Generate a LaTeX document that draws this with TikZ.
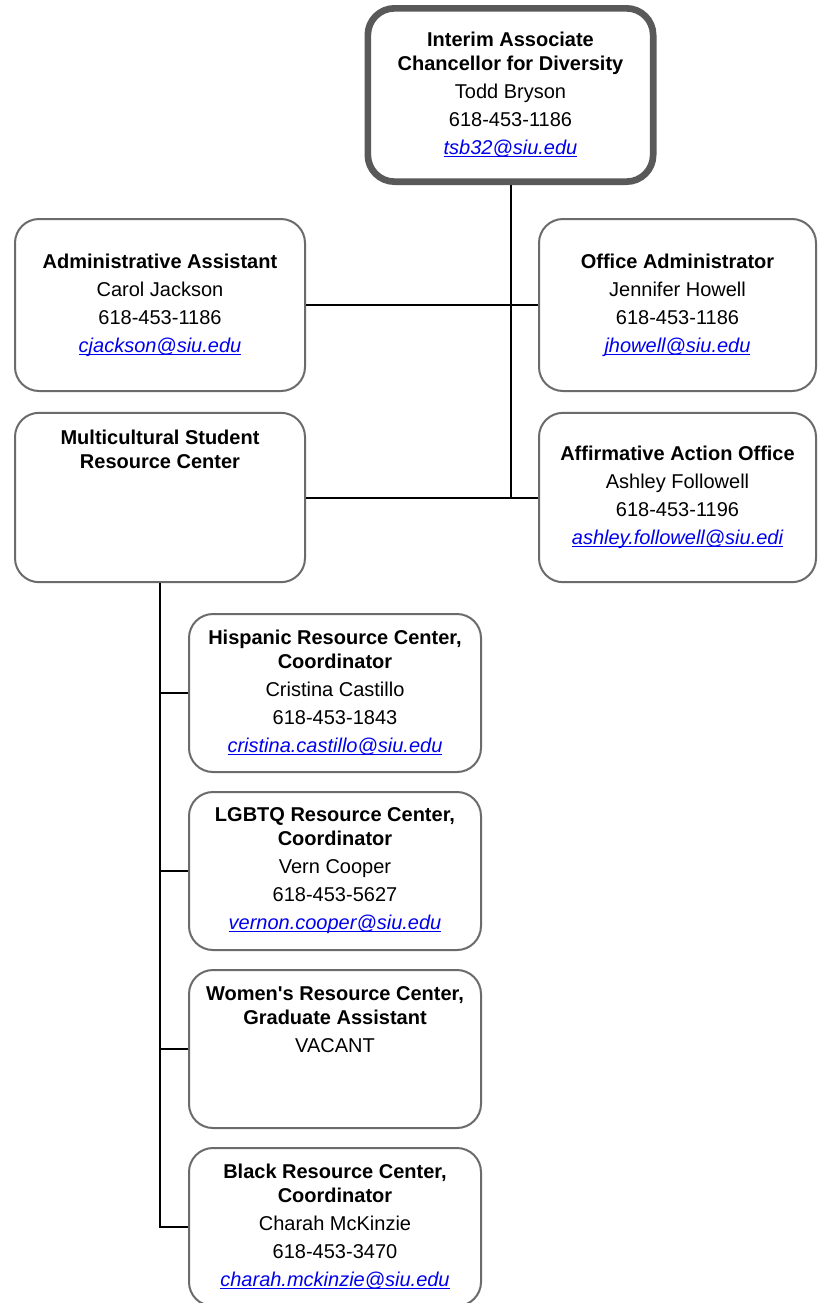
\documentclass[tikz,border=0pt]{standalone}
\usepackage{fontspec}
\setmainfont{Liberation Sans}
\usepackage{tikz}
\usetikzlibrary{positioning,calc}
\usepackage{xcolor}
\definecolor{linkblue}{RGB}{0,0,238}
\newcommand{\Email}[1]{\textcolor{linkblue}{\setbox0\hbox{\itshape #1}%
    \rlap{\rule[-1.8pt]{\wd0}{0.8pt}}\box0}}

\begin{document}
\begin{tikzpicture}[
    x=0.75pt, y=-0.75pt,
    box/.style={draw=black!58, line width=1.5pt, rounded corners=18pt, fill=white,
        align=center, font=\fontsize{15pt}{18pt}\selectfont, inner sep=0pt},
    head/.style={box, draw=black!65, line width=5pt, rounded corners=20pt},
    conn/.style={draw=black, line width=1.5pt}
]
\useasboundingbox (0,0) rectangle (818,1303);

\node[head, minimum width=214pt, minimum height=130pt] (iac) at (510.5,95) {%
    \textbf{Interim Associate}\\\textbf{Chancellor for Diversity}\\[3pt]
    Todd Bryson\\[3pt]618-453-1186\\[3pt]\Email{tsb32@siu.edu}};

\node[box, minimum width=217.5pt, minimum height=129pt] (adm) at (160,305) {%
    \textbf{Administrative Assistant}\\[3pt]Carol Jackson\\[3pt]
    618-453-1186\\[3pt]\Email{cjackson@siu.edu}};
\node[box, minimum width=207.75pt, minimum height=129pt] (ofa) at (677.5,305) {%
    \textbf{Office Administrator}\\[3pt]Jennifer Howell\\[3pt]
    618-453-1186\\[3pt]\Email{jhowell@siu.edu}};

\node[box, minimum width=217.5pt, minimum height=127pt] (msrc) at (160,497.5) {%
    \textbf{Multicultural Student}\\\textbf{Resource Center}\\[54pt]\mbox{}};
\node[box, minimum width=207.75pt, minimum height=127pt] (aao) at (677.5,497.5) {%
    \textbf{Affirmative Action Office}\\[3pt]Ashley Followell\\[3pt]
    618-453-1196\\[3pt]\Email{ashley.followell@siu.edi}};

% resource centers
\node[box, minimum width=219pt, minimum height=118.5pt] (hrc) at (335,693) {%
    \textbf{Hispanic Resource Center,}\\\textbf{Coordinator}\\[3pt]
    Cristina Castillo\\[3pt]618-453-1843\\[3pt]\Email{cristina.castillo@siu.edu}};
\node[box, minimum width=219pt, minimum height=118.5pt] (lrc) at (335,871) {%
    \textbf{LGBTQ Resource Center,}\\\textbf{Coordinator}\\[3pt]
    Vern Cooper\\[3pt]618-453-5627\\[3pt]\Email{vernon.cooper@siu.edu}};
\node[box, minimum width=219pt, minimum height=118.5pt] (wrc) at (335,1049) {%
    \textbf{Women\textquotesingle s Resource Center,}\\\textbf{Graduate Assistant}\\[3pt]
    VACANT\\[26pt]\mbox{}};
\node[box, minimum width=219pt, minimum height=118.5pt] (brc) at (335,1227) {%
    \textbf{Black Resource Center,}\\\textbf{Coordinator}\\[3pt]
    Charah McKinzie\\[3pt]618-453-3470\\[3pt]\Email{charah.mckinzie@siu.edu}};

\coordinate (trunk) at (iac.south |- msrc.east);

\draw[conn] (iac.south) -- (trunk);
\draw[conn] (adm.east) -- (ofa.west);
\draw[conn] (msrc.east) -- (aao.west);

\draw[conn] (msrc.south) -- (msrc.south |- brc.west) -- (brc.west);
\draw[conn] (msrc.south |- hrc.west) -- (hrc.west);
\draw[conn] (msrc.south |- lrc.west) -- (lrc.west);
\draw[conn] (msrc.south |- wrc.west) -- (wrc.west);
\end{tikzpicture}
\end{document}
